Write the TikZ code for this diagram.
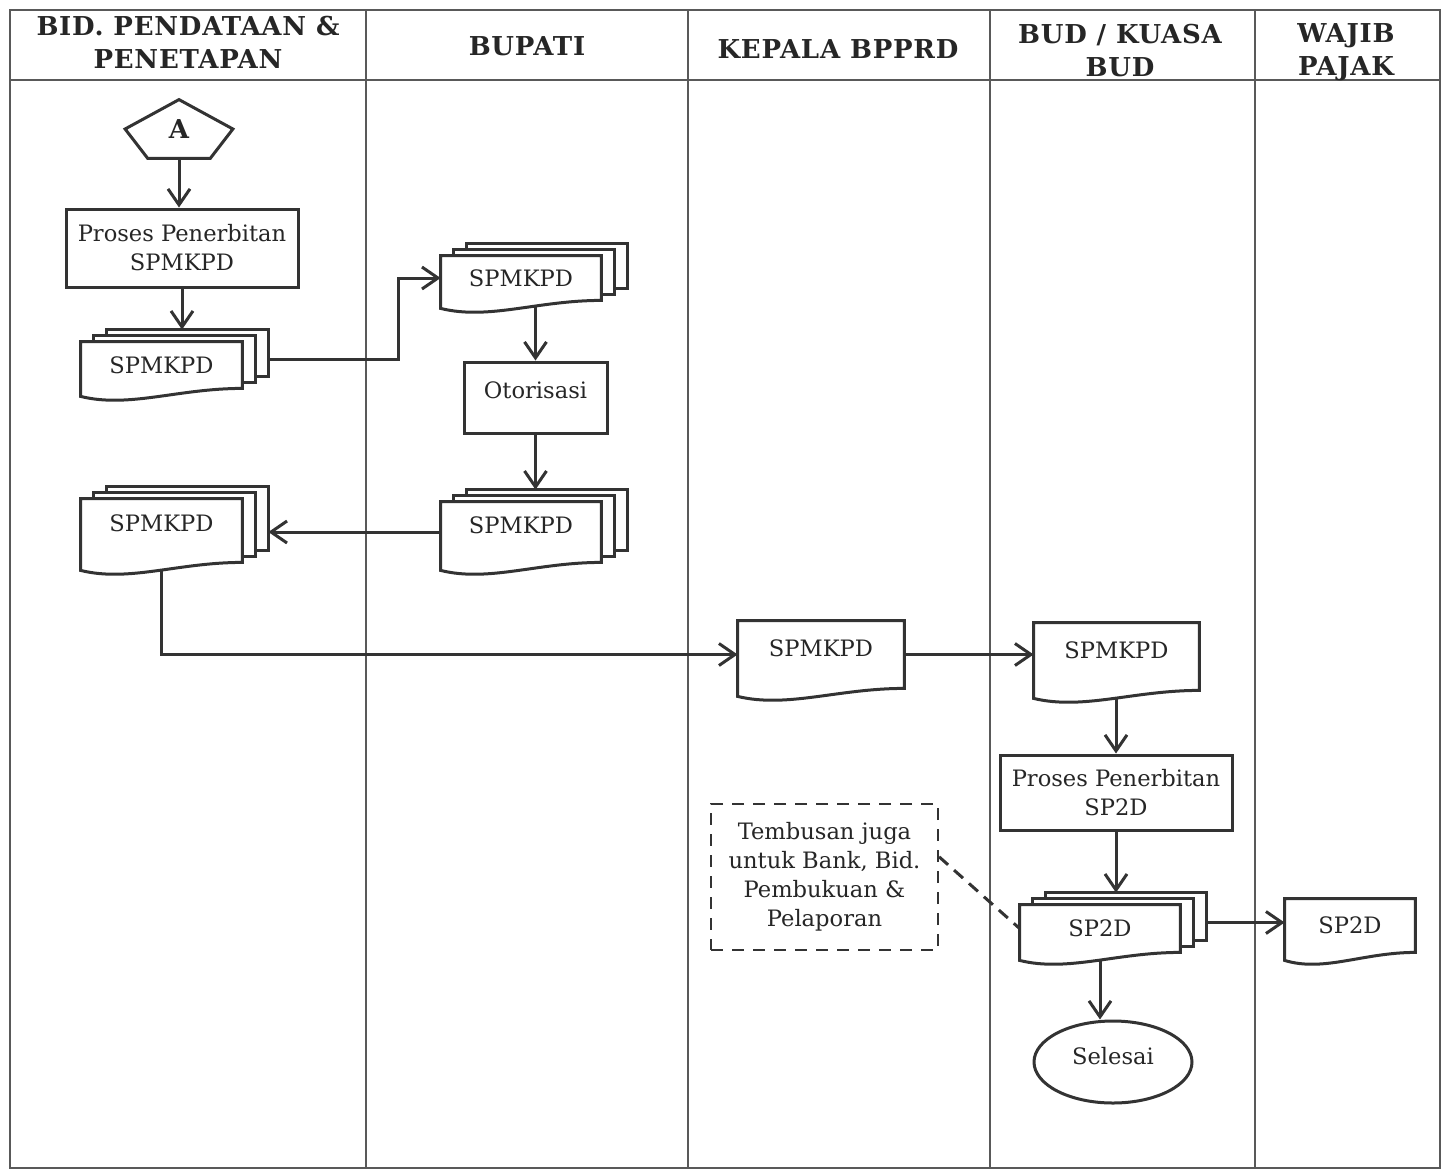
\documentclass[tikz,border=0pt]{standalone}
\usepackage{fontspec}
\setmainfont{DejaVu Serif}
\newfontfamily\judulfont[LetterSpace=3]{DejaVu Serif}
\usetikzlibrary{arrows.meta, calc, shapes.geometric, backgrounds}
\pgfdeclarelayer{dokumen}
\pgfsetlayers{background,dokumen,main}

% garis tepi dokumen dengan bawah bergelombang
\newcommand{\gambardok}[1]{\draw[garis, fill=white] ($(#1.south west)+(0,8)$) .. controls ($(#1.south west)!0.3!(#1.south east)+(0,20)$) and ($(#1.south west)!0.6!(#1.south east)$) .. (#1.south east) -- (#1.north east) -- (#1.north west) -- cycle;}

\begin{document}
\begin{tikzpicture}[x=0.5pt, y=-0.5pt, every node/.style={font=\fontsize{11.3}{14.5}\selectfont, text=black!85},
    tabel/.style={line width=0.6pt, draw=black!65},
    garis/.style={line width=1.5pt, draw=black!80},
    panah/.style={garis, -{Straight Barb[length=8pt, width=11pt]}},
    judul/.style={font=\judulfont\bfseries\fontsize{13}{16.5}\selectfont, align=center},
    proses/.style={rectangle, draw=black!80, line width=1.5pt, fill=white, inner sep=2pt},
    dok/.style={rectangle, inner sep=0pt},
    catatan/.style={rectangle, draw=black!80, line width=1.1pt, dash pattern=on 6pt off 4.5pt, align=center}]
    \useasboundingbox (0,0) rectangle (1452,1174);

    % judul kolom
    \node[judul] (hBid) at (188,42) {BID. PENDATAAN \&\\PENETAPAN};
    \node[judul] (hBup) at (527,46) {BUPATI};
    \node[judul] (hKep) at (838,49) {KEPALA BPPRD};
    \node[judul] (hBud) at (1120,51) {BUD / KUASA\\BUD};
    \node[judul] (hWaj) at (1346,52) {WAJIB\\PAJAK};

    \node[font=\bfseries\fontsize{13}{15}\selectfont, minimum width=53.5pt, minimum height=29pt, inner sep=0pt] (A) at (179,129) {A};
    \draw[garis] (A.north) -- (A.west) -- ($(A.south west)!0.21!(A.south east)$) -- ($(A.south west)!0.79!(A.south east)$) -- (A.east) -- cycle;

    \node[proses, minimum width=116pt, minimum height=39pt, align=center] (proc1) at (182,248) {Proses Penerbitan\\SPMKPD};
    \node[dok, minimum width=80.5pt, minimum height=23pt] (d1) at (161.5,365) {SPMKPD};
    \node[dok, minimum width=80pt, minimum height=22pt] (d2) at (521,278) {SPMKPD};
    \node[proses, minimum width=71.5pt, minimum height=35.5pt, text depth=7pt] (otor) at (535.5,397.5) {Otorisasi};
    \node[dok, minimum width=80pt, minimum height=30pt, text depth=7pt] (d3) at (521,532) {SPMKPD};
    \node[dok, minimum width=80.5pt, minimum height=31.5pt, text depth=7pt] (d4) at (161.5,530.5) {SPMKPD};
    \node[dok, minimum width=83pt, minimum height=33.5pt, text depth=6pt] (d5) at (821,654.5) {SPMKPD};
    \node[dok, minimum width=82.5pt, minimum height=33.5pt, text depth=6pt] (d6) at (1116.5,656.5) {SPMKPD};
    \node[proses, minimum width=116pt, minimum height=37.5pt, align=center] (proc2) at (1116,792.5) {Proses Penerbitan\\SP2D};
    \node[dok, minimum width=80pt, minimum height=23.5pt] (d7) at (1100,928.5) {SP2D};
    \node[dok, minimum width=65pt, minimum height=26.5pt] (d8) at (1350,925.5) {SP2D};
    \node[proses, ellipse, minimum width=79pt, minimum height=41pt, text depth=6pt] (selesai) at (1113,1062) {Selesai};
    \node[catatan, minimum width=113.5pt, minimum height=73pt] (note) at (824.5,877) {Tembusan juga\\untuk Bank, Bid.\\Pembukuan \&\\Pelaporan};

    % titik bantu tumpukan
    \foreach \d in {d1,d2,d3,d4,d7} {
        \coordinate (\d c) at ($(\d.north)+(0,-12)$);
        \coordinate (\d k) at ($(\d.east)+(26,-6)$);
    }

    \begin{pgfonlayer}{dokumen}
        \foreach \d in {d1,d2,d3,d4,d7} {
            \draw[garis, fill=white] ($(\d.north west)+(26,-12)$) rectangle ($(\d.south east)+(26,-12)$);
            \draw[garis, fill=white] ($(\d.north west)+(13,-6)$) rectangle ($(\d.south east)+(13,-6)$);
        }
        \foreach \d in {d1,d2,d3,d4,d5,d6,d7,d8}
            \gambardok{\d};
    \end{pgfonlayer}

    \begin{scope}[on background layer]
        \draw[tabel] (10,10) rectangle (1440,1168);
        \draw[tabel] (10,80) -- (1440,80);
        \foreach \x in {366,688,990,1255}
            \draw[tabel] (\x,10) -- (\x,1168);

        \draw[panah] (A.south) -- (A.south |- proc1.north);
        \draw[panah] (proc1.south) -- (proc1.south |- d1c);
        \draw[panah] (d1k) -- ++(130,0) |- (d2.west);
        \draw[panah] (otor.north |- d2.south) -- (otor.north);
        \draw[panah] (otor.south) -- (otor.south |- d3c);
        \draw[panah] (d3.west) -- (d3.west -| d4k);
        \draw[panah] (d4.south) |- (d5.west);
        \draw[panah] (d5.east) -- (d5.east -| d6.west);
        \draw[panah] (proc2.north |- d6.south) -- (proc2.north);
        \draw[panah] (proc2.south) -- (proc2.south |- d7c);
        \draw[panah] (d7k) -- (d7k -| d8.west);
        \draw[panah] (d7.south) -- (d7.south |- selesai.north);
        \draw[garis, dash pattern=on 6pt off 4pt] (note.10) -- (d7.west);
    \end{scope}
\end{tikzpicture}
\end{document}
